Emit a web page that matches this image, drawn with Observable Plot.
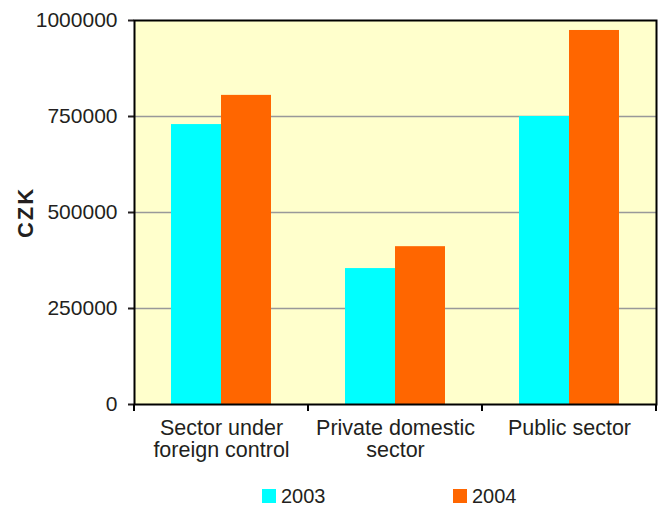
<!DOCTYPE html>
<html><head><meta charset="utf-8">
<script src="https://cdn.jsdelivr.net/npm/d3@7"></script>
<script src="https://cdn.jsdelivr.net/npm/@observablehq/plot@0.6"></script>
<style>
body{margin:0;background:#fff;font-family:"Liberation Sans",Arial,sans-serif;color:#231f20}
#legend{position:relative;width:658px;height:29px}
.item{position:absolute;top:10px;display:flex;align-items:center;font-size:20px;line-height:16px}
.sw{width:14px;height:14px;margin-right:5px;display:inline-block}
</style>
</head><body>
<div id="chart"></div>
<div id="legend"></div>
<script>
const categories = ["Sector under foreign control", "Private domestic sector", "Public sector"];
const categoryLabels = ["Sector under\nforeign control", "Private domestic\nsector", "Public sector"];
const years = ["2003", "2004"];
const values2003 = [729000, 354000, 750000];
const values2004 = [805000, 411000, 974000];
const yTicks = [0, 250000, 500000, 750000, 1000000];
const gridValues = [250000, 500000, 750000];
const colors = ["#00FFFF", "#FF6600"];
const yLabel = "CZK";

const rows = categories.flatMap((c, i) => [
  {category: c, year: years[0], value: values2003[i]},
  {category: c, year: years[1], value: values2004[i]}
]);

const chart = Plot.plot({
  width: 658, height: 478,
  marginLeft: 134, marginRight: 2, marginTop: 20, marginBottom: 74,
  style: {fontFamily: '"Liberation Sans", Arial, sans-serif', fontSize: "21px", color: "#231f20", background: "#fff"},
  fx: {domain: categories, padding: 0},
  x: {domain: years, paddingInner: 0, paddingOuter: 0.74, axis: null},
  y: {domain: [0, 1000000]},
  color: {domain: years, range: colors},
  marks: [
    Plot.frame({facet: "super", fill: "#FFFFCC", stroke: "none"}),
    Plot.ruleY(gridValues, {stroke: "#999", strokeWidth: 1.3}),
    Plot.barY(rows, {fx: "category", x: "year", y: "value", fill: "year"}),
    Plot.axisY({ticks: yTicks, tickFormat: d => String(d), tickSize: 6, tickPadding: 11, strokeWidth: 2, label: null, fontSize: 21}),
    Plot.axisFx({anchor: "bottom", tickSize: 0, tickPadding: 14, tickFormat: c => categoryLabels[categories.indexOf(c)], lineHeight: 1.05, label: null, fontSize: 21.5}),
    Plot.text([yLabel], {facet: "super", frameAnchor: "left", textAnchor: "middle", lineAnchor: "middle", rotate: -90, dx: -109, fontWeight: "bold", fontSize: 22, fill: "#231f20"}),
    Plot.frame({facet: "super", stroke: "#000", strokeWidth: 2})
  ]
});

// boundary ticks on the category axis, from the plot's own scales
const fx = chart.scale("fx"), ys = chart.scale("y");
const y0 = ys.apply(0);
const bounds = categories.map(c => fx.apply(c)).concat([fx.apply(categories[categories.length - 1]) + fx.bandwidth]);
d3.select(chart).append("g").attr("stroke", "#000").attr("stroke-width", 2)
  .selectAll("line").data(bounds).join("line")
  .attr("x1", d => d).attr("x2", d => d).attr("y1", y0).attr("y2", y0 + 7);
d3.select(chart).selectAll("text").filter(function(){ return this.textContent === yLabel; }).style("letter-spacing", "2px");

document.getElementById("chart").appendChild(chart);

const legendX = [262, 453];
const legend = d3.select("#legend");
years.forEach((yr, i) => {
  const it = legend.append("div").attr("class", "item").style("left", legendX[i] + "px");
  it.append("span").attr("class", "sw").style("background", colors[i]);
  it.append("span").text(yr);
});
</script>
</body></html>
